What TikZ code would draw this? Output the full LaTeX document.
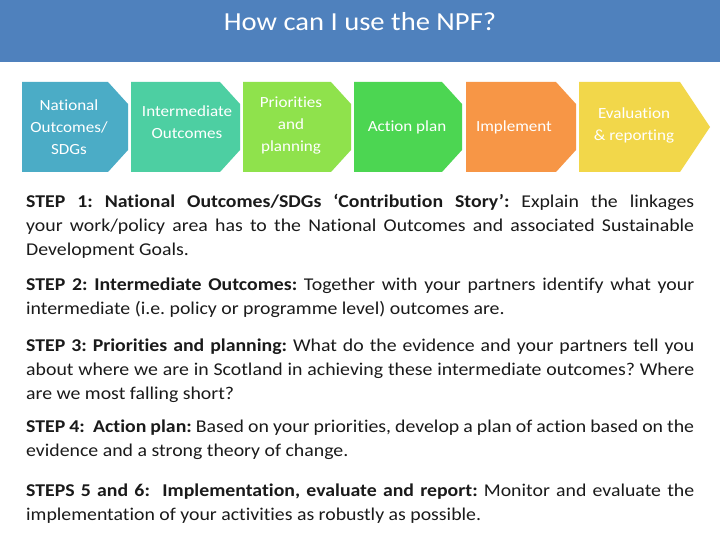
\documentclass[tikz,border=0pt]{standalone}
\usepackage{fontspec}
\setmainfont{Carlito}[FakeStretch=1.1, Ligatures=NoCommon]
\newcommand\nohyph{\hyphenpenalty=10000\relax\exhyphenpenalty=10000\relax\frenchspacing}
\definecolor{band}{HTML}{4F81BD}
\definecolor{c1}{HTML}{4BACC6}
\definecolor{c2}{HTML}{4DCFA2}
\definecolor{c3}{HTML}{8FE24C}
\definecolor{c4}{HTML}{4CD652}
\definecolor{c5}{HTML}{F79646}
\definecolor{c6}{HTML}{F2D74A}
\definecolor{bodyc}{HTML}{1A1A1A}
\tikzset{
  chev/.style={font=\fontsize{15.5}{22}\selectfont, text=white, align=center, inner sep=0pt},
  para/.style={anchor=north west, text width=668pt, align=justify, inner sep=0pt,
    font=\fontsize{18}{24}\selectfont\nohyph, text=bodyc}
}
\begin{document}
\begin{tikzpicture}[x=1pt,y=-1pt]
\useasboundingbox (0,0) rectangle (720,540);
\fill[white] (0,0) rectangle (720,540);
\fill[band] (0,0) rectangle (720,62);
\node[text=white, font=\fontsize{26}{30}\selectfont] (title) at (360,22) {How can I use the NPF?};
\foreach \l/\r/\c in {22/128/c1,131/240/c2,243/351/c3,354/462/c4,466/576/c5}{
  \fill[\c] (\l,82) -- (\r-20,82) -- (\r,104) -- (\r,150) -- (\r-20,172) -- (\l,172) -- cycle;
}
\fill[c6] (579,82) -- (680,82) -- (710,127) -- (680,172) -- (579,172) -- cycle;
\node[chev] (s1) at (69,127) {National\\Outcomes/\\SDGs};
\node[chev] (s2) at (187,122) {Intermediate\\Outcomes};
\node[chev] (s3) at (291,126) {Priorities\\and\\planning};
\node[chev] (s4) at (407,127) {Action plan};
\node[chev] (s5) at (514,127) {Implement};
\node[chev] (s6) at (634,125) {Evaluation\\\& reporting};
\node[para] (p1) at (26,194) {\textbf{STEP 1: National Outcomes/SDGs ‘Contribution Story’:} Explain the linkages your work/policy area has to the National Outcomes and associated Sustainable Development Goals.};
\node[para] (p2) at (26,278) {\textbf{STEP 2: Intermediate Outcomes:} Together with your partners identify what your intermediate (i.e. policy or programme level) outcomes are.};
\node[para] (p3) at (26,339) {\textbf{STEP 3: Priorities and planning:} What do the evidence and your partners tell you about where we are in Scotland in achieving these intermediate outcomes? Where are we most falling short?};
\node[para] (p4) at (26,420) {\textbf{STEP 4:\ \ Action plan:} Based on your priorities, develop a plan of action based on the evidence and a strong theory of change.};
\node[para] (p5) at (26,484) {\textbf{STEPS 5 and 6:\ \ Implementation, evaluate and report:} Monitor and evaluate the implementation of your activities as robustly as possible.};
\end{tikzpicture}
\end{document}
